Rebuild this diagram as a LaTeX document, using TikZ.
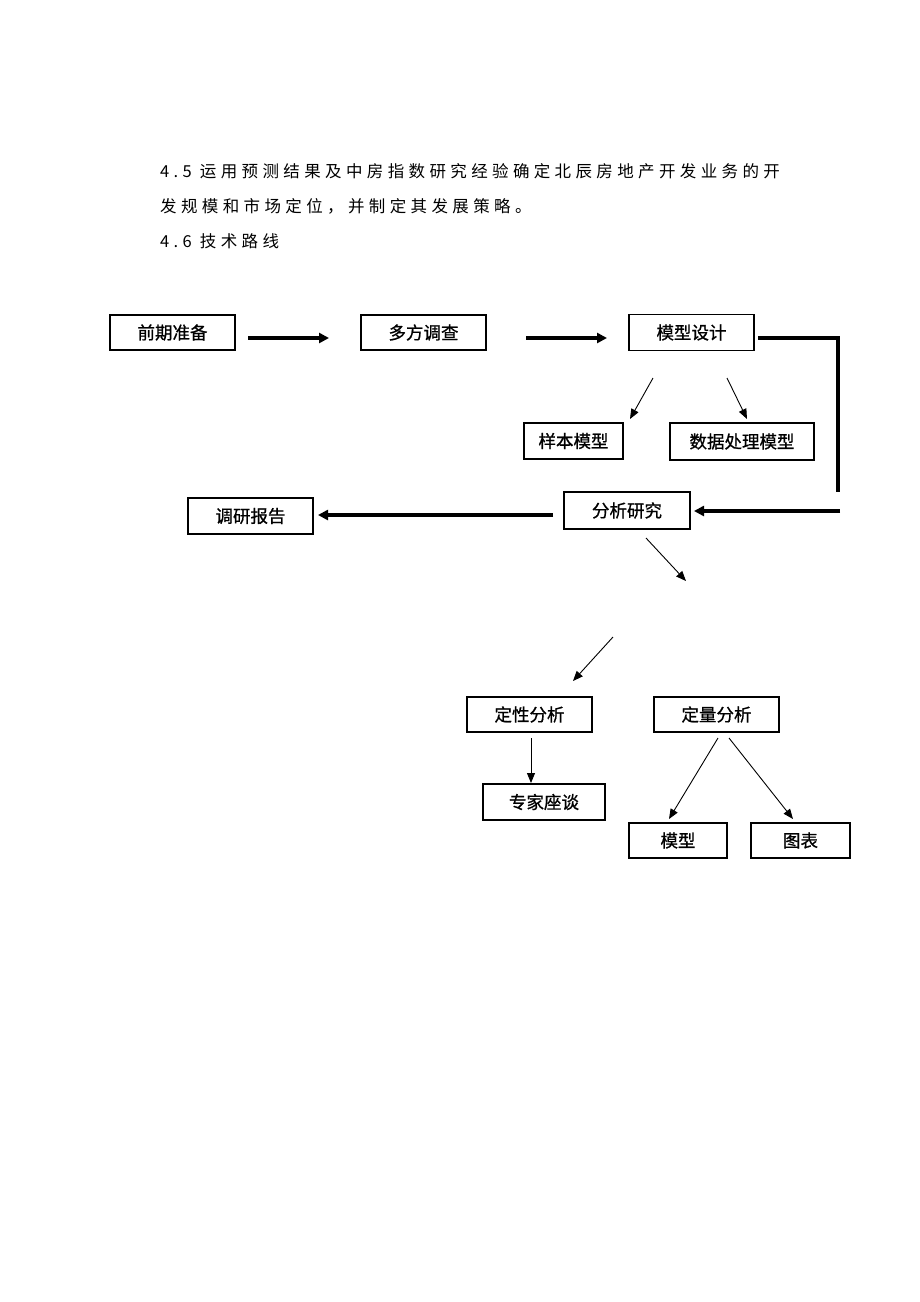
\documentclass[tikz,border=0pt]{standalone}
\usepackage{fontspec}
\newfontfamily\cjk[FakeBold=0.9]{Noto Sans CJK SC}
\newfontfamily\cjkp[LetterSpace=26.5]{Noto Sans CJK SC}
\usetikzlibrary{arrows.meta}
\begin{document}
\begin{tikzpicture}[x=1pt,y=-1pt,
  box/.style={draw,line width=1.3pt,inner sep=0pt,font=\cjk\fontsize{17.5}{19}\selectfont,anchor=center},
  thickarr/.style={line width=3.3pt,-{Triangle[length=10pt,width=10pt]}},
  thickln/.style={line width=3.3pt},
  thinarr/.style={line width=0.9pt,-{Triangle[length=10pt,width=8pt]}},
  para/.style={anchor=base west,inner sep=0pt,font=\cjkp\fontsize{16.5}{18}\selectfont}]
\useasboundingbox (0,0) rectangle (920,1302);
\fill[white] (0,0) rectangle (920,1302);
% paragraph text
\node[para] (t1) at (160,177) {4.5 运用预测结果及中房指数研究经验确定北辰房地产开发业务的开};
\node[para] (t2) at (160,212) {发规模和市场定位，并制定其发展策略。};
\node[para] (t3) at (160,247) {4.6 技术路线};
% boxes
\node[box,minimum width=125pt,minimum height=35pt] (qq) at (172.5,332.5) {前期准备};
\node[box,minimum width=125pt,minimum height=35pt] (dc) at (423.5,332.5) {多方调查};
\node[box,minimum width=125pt,minimum height=36pt] (mx) at (691.5,332.5) {模型设计};
\node[box,minimum width=99pt,minimum height=36pt] (yb) at (573.5,441) {样本模型};
\node[box,minimum width=144pt,minimum height=37pt] (sj) at (742,441.5) {数据处理模型};
\node[box,minimum width=126pt,minimum height=37pt] (fx) at (627,510.5) {分析研究};
\node[box,minimum width=125pt,minimum height=36pt] (dy) at (250.5,516) {调研报告};
\node[box,minimum width=125pt,minimum height=35pt] (dx) at (529.5,714.5) {定性分析};
\node[box,minimum width=125pt,minimum height=35pt] (dl) at (716.5,714.5) {定量分析};
\node[box,minimum width=122pt,minimum height=36pt] (zj) at (544,802) {专家座谈};
\node[box,minimum width=98pt,minimum height=35pt] (mo) at (678,840.5) {模型};
\node[box,minimum width=99pt,minimum height=35pt] (tb) at (800.5,840.5) {图表};
% connector coordinates
\coordinate (a1s) at (248,338); \coordinate (a1e) at (329,338);
\coordinate (a2s) at (526,338); \coordinate (a2e) at (607,338);
\coordinate (l1s) at (760,338); \coordinate (l1c) at (838,338); \coordinate (l1e) at (838,490);
\coordinate (a3s) at (840,511); \coordinate (a3e) at (694,511);
\coordinate (a4s) at (553,515); \coordinate (a4e) at (318,515);
\coordinate (d1s) at (653,378); \coordinate (d1e) at (630,419);
\coordinate (d2s) at (727,378); \coordinate (d2e) at (747,419);
\coordinate (d3s) at (646,538); \coordinate (d3e) at (686,581);
\coordinate (d4s) at (613,637); \coordinate (d4e) at (573,681);
\coordinate (d5s) at (531,738); \coordinate (d5e) at (531,783);
\coordinate (d6s) at (718,738); \coordinate (d6e) at (669,819);
\coordinate (d7s) at (729,738); \coordinate (d7e) at (793,819);
% connectors
\draw[thickarr] (a1s) -- (a1e);
\draw[thickarr] (a2s) -- (a2e);
\draw[thickln,line cap=rect] (l1s) -- (l1c) -- (l1e);
\draw[thickarr] (a3s) -- (a3e);
\draw[thickarr] (a4s) -- (a4e);
\draw[thinarr] (d1s) -- (d1e);
\draw[thinarr] (d2s) -- (d2e);
\draw[thinarr] (d3s) -- (d3e);
\draw[thinarr] (d4s) -- (d4e);
\draw[thinarr] (d5s) -- (d5e);
\draw[thinarr] (d6s) -- (d6e);
\draw[thinarr] (d7s) -- (d7e);
\end{tikzpicture}
\end{document}
